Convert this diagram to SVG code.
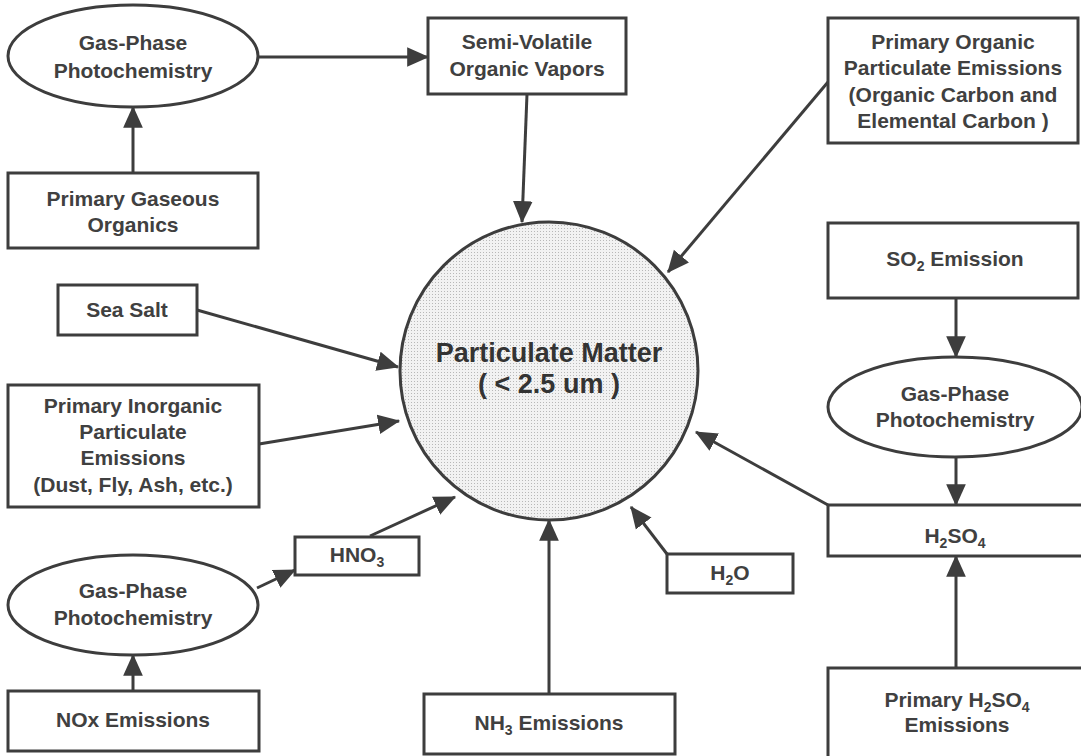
<svg xmlns="http://www.w3.org/2000/svg" width="1081" height="756" viewBox="0 0 1081 756">
<style>
.box{fill:#fff;stroke:#3d3d3d;stroke-width:3}
.ell{fill:#fff;stroke:#3d3d3d;stroke-width:3}
.t{font-family:"Liberation Sans",Arial,sans-serif;font-size:21px;font-weight:bold;fill:#404040;text-anchor:middle}
.big{font-family:"Liberation Sans",Arial,sans-serif;font-size:27px;font-weight:bold;fill:#333;text-anchor:middle}
.sub{font-size:14px}
.c line{stroke:#3d3d3d;stroke-width:3;marker-end:url(#ah)}
</style>
<defs>
<marker id="ah" markerUnits="userSpaceOnUse" markerWidth="22" markerHeight="22" viewBox="0 0 19 17" refX="18" refY="8.5" orient="auto">
<path d="M0,0 L19,8.5 L0,17 Z" fill="#3d3d3d"/>
</marker>
<pattern id="stip" patternUnits="userSpaceOnUse" width="3" height="3">
<rect width="3" height="3" fill="#f2f2f2"/>
<rect width="1" height="1" fill="#b8b8b8"/>
</pattern>
</defs>
<rect width="1081" height="756" fill="#fff"/>

<g class="c">
<line x1="258" y1="57" x2="428" y2="57"/>
<line x1="133" y1="173" x2="133" y2="107"/>
<line x1="527" y1="94" x2="522" y2="222"/>
<line x1="828" y1="82" x2="668" y2="272"/>
<line x1="197" y1="310" x2="398" y2="367"/>
<line x1="259" y1="444" x2="399" y2="421"/>
<line x1="370" y1="536" x2="455" y2="497"/>
<line x1="257" y1="588" x2="295" y2="570"/>
<line x1="133" y1="691" x2="133" y2="655"/>
<line x1="549" y1="694" x2="549" y2="520"/>
<line x1="667" y1="554" x2="631" y2="507"/>
<line x1="956" y1="298" x2="956" y2="357"/>
<line x1="956" y1="457" x2="956" y2="505"/>
<line x1="828" y1="505" x2="696" y2="432"/>
<line x1="956" y1="668" x2="956" y2="556"/>
</g>

<g id="pm">
<circle cx="549" cy="371" r="149" fill="url(#stip)" stroke="#3d3d3d" stroke-width="3"/>
<text class="big" x="549" y="362">Particulate Matter</text>
<text class="big" x="549" y="393">( &lt; 2.5 um )</text>
</g>

<g id="gpp-top">
<ellipse class="ell" cx="133" cy="56" rx="125" ry="51"/>
<text class="t" x="133" y="50">Gas-Phase</text>
<text class="t" x="133" y="78">Photochemistry</text>
</g>

<g id="svov">
<rect class="box" x="428" y="18" width="198" height="76"/>
<text class="t" x="527" y="49">Semi-Volatile</text>
<text class="t" x="527" y="76">Organic Vapors</text>
</g>

<g id="pgo">
<rect class="box" x="8" y="173" width="250" height="75"/>
<text class="t" x="133" y="206">Primary Gaseous</text>
<text class="t" x="133" y="232">Organics</text>
</g>

<g id="pope">
<rect class="box" x="828" y="18" width="250" height="125"/>
<text class="t" x="953" y="49">Primary Organic</text>
<text class="t" x="953" y="75">Particulate Emissions</text>
<text class="t" x="953" y="102">(Organic Carbon and</text>
<text class="t" x="953" y="128">Elemental Carbon )</text>
</g>

<g id="seasalt">
<rect class="box" x="58" y="285" width="139" height="50"/>
<text class="t" x="127" y="317">Sea Salt</text>
</g>

<g id="pipe">
<rect class="box" x="8" y="385" width="251" height="122"/>
<text class="t" x="133" y="413">Primary Inorganic</text>
<text class="t" x="133" y="439">Particulate</text>
<text class="t" x="133" y="465">Emissions</text>
<text class="t" x="133" y="492">(Dust, Fly, Ash, etc.)</text>
</g>

<g id="hno3">
<rect class="box" x="295" y="537" width="124" height="38"/>
<text class="t" x="357" y="562">HNO<tspan class="sub" dy="5">3</tspan></text>
</g>

<g id="gpp-bottom">
<ellipse class="ell" cx="133" cy="605" rx="125" ry="50"/>
<text class="t" x="133" y="598">Gas-Phase</text>
<text class="t" x="133" y="625">Photochemistry</text>
</g>

<g id="nox">
<rect class="box" x="8" y="691" width="251" height="60"/>
<text class="t" x="133" y="727">NOx Emissions</text>
</g>

<g id="nh3">
<rect class="box" x="424" y="694" width="251" height="60"/>
<text class="t" x="549" y="730">NH<tspan class="sub" dy="5">3</tspan><tspan dy="-5"> Emissions</tspan></text>
</g>

<g id="h2o">
<rect class="box" x="667" y="554" width="126" height="39"/>
<text class="t" x="730" y="580">H<tspan class="sub" dy="5">2</tspan><tspan dy="-5">O</tspan></text>
</g>

<g id="so2">
<rect class="box" x="828" y="223" width="250" height="75"/>
<text class="t" x="955" y="266">SO<tspan class="sub" dy="5">2</tspan><tspan dy="-5"> Emission</tspan></text>
</g>

<g id="gpp-right">
<ellipse class="ell" cx="955" cy="407" rx="127" ry="50"/>
<text class="t" x="955" y="401">Gas-Phase</text>
<text class="t" x="955" y="427">Photochemistry</text>
</g>

<g id="h2so4">
<rect class="box" x="828" y="505" width="265" height="51"/>
<text class="t" x="955" y="543">H<tspan class="sub" dy="5">2</tspan><tspan dy="-5">SO</tspan><tspan class="sub" dy="5">4</tspan></text>
</g>

<g id="ph2so4">
<rect class="box" x="828" y="668" width="265" height="110"/>
<text class="t" x="957" y="707">Primary H<tspan class="sub" dy="5">2</tspan><tspan dy="-5">SO</tspan><tspan class="sub" dy="5">4</tspan></text>
<text class="t" x="957" y="732">Emissions</text>
</g>
</svg>
